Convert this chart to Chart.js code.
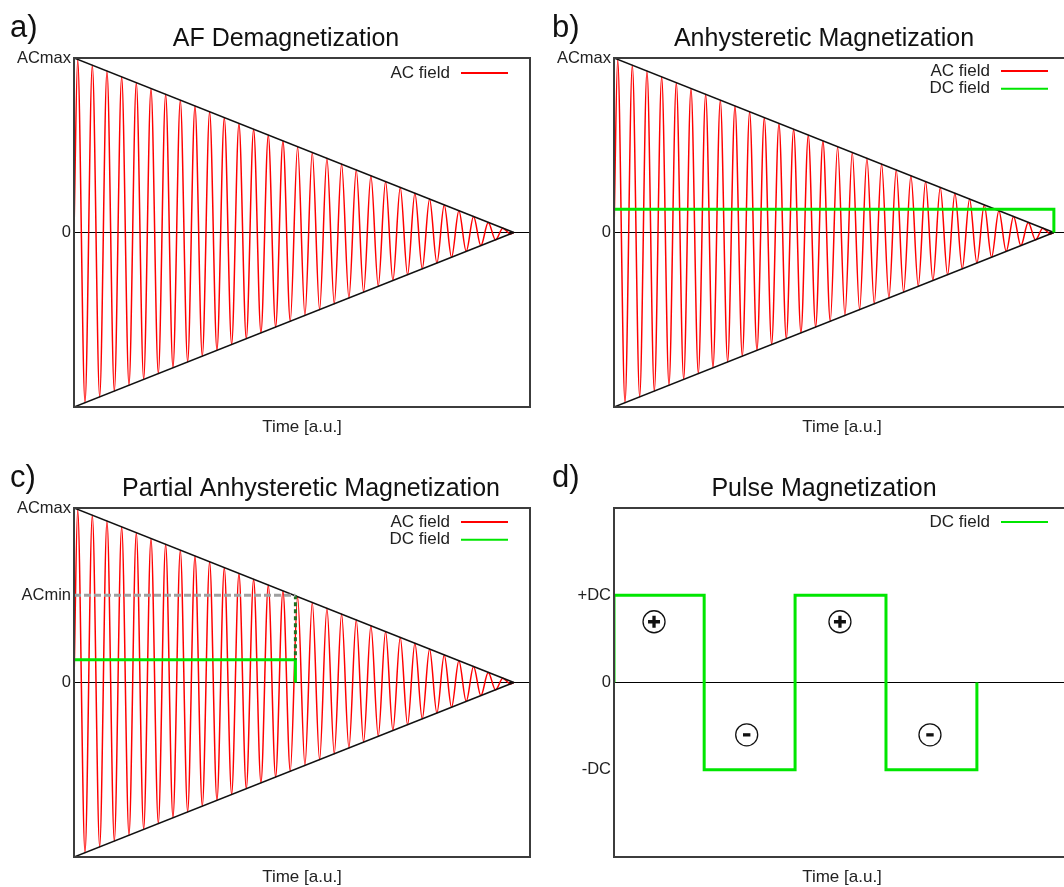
<!DOCTYPE html>
<html>
<head>
<meta charset="utf-8">
<title>Magnetization protocols</title>
<script src="https://cdn.jsdelivr.net/npm/chart.js@4.4.1/dist/chart.umd.min.js"></script>
<style>
  html, body { margin: 0; padding: 0; background: #fff; overflow: hidden; }
  body { position: relative; width: 1064px; height: 887px; }
  canvas { position: absolute; }
</style>
</head>
<body>
<canvas id="panelA" width="572" height="450" style="left:0;top:0"></canvas>
<canvas id="panelB" width="568" height="450" style="left:540px;top:0"></canvas>
<canvas id="panelC" width="622" height="450" style="left:0;top:450px"></canvas>
<canvas id="panelD" width="568" height="450" style="left:540px;top:450px"></canvas>
<script>
// time axis runs 0..31.1, the AC field dies out at t = 30
const timeMax = 31.1;

// AC field: successive peak / trough values, half a cycle apart
const acPeaks = [
  0.992, -0.975, 0.958, -0.942, 0.925, -0.908, 0.892, -0.875, 0.858, -0.842,
  0.825, -0.808, 0.792, -0.775, 0.758, -0.742, 0.725, -0.708, 0.692, -0.675,
  0.658, -0.642, 0.625, -0.608, 0.592, -0.575, 0.558, -0.542, 0.525, -0.508,
  0.492, -0.475, 0.458, -0.442, 0.425, -0.408, 0.392, -0.375, 0.358, -0.342,
  0.325, -0.308, 0.292, -0.275, 0.258, -0.242, 0.225, -0.208, 0.192, -0.175,
  0.158, -0.142, 0.125, -0.108, 0.092, -0.075, 0.058, -0.042, 0.025, -0.008
];
const acTimes = [0, ...acPeaks.map((_, i) => 0.25 + 0.5 * i), 30];
const acValues = [0, ...acPeaks, 0];

const envelopeTimes = [0, 30];
const envelopeUpper = [1, 0];
const envelopeLower = [-1, 0];

// b) constant DC bias during the whole AF decay
const armTimes = [0, 30, 30];
const armValues = [0.133, 0.133, 0];

// c) DC bias switched off when the AC field reaches ACmin
const pdcTimes = [0, 15.1, 15.1];
const pdcValues = [0.13, 0.13, 0];
const acMinTimes = [0, 15.1];
const acMinValues = [0.5, 0.5];
const switchTimes = [15.1, 15.1];
const switchValues = [0.5, 0.13];

// d) DC pulses
const pulseTimes = [0, 0, 6.15, 6.15, 12.35, 12.35, 18.55, 18.55, 24.75, 24.75];
const pulseValues = [0, 0.5, 0.5, -0.5, -0.5, 0.5, 0.5, -0.5, -0.5, 0];
const plusTimes = [2.73, 15.41];
const plusValues = [0.348, 0.348];
const minusTimes = [9.05, 21.55];
const minusValues = [-0.3, -0.3];

// y tick positions and their names
const acTicks = [1, 0];
const acTickLabels = ['ACmax', '0'];
const pamTicks = [1, 0.5, 0];
const pamTickLabels = ['ACmax', 'ACmin', '0'];
const pulseTicks = [0.5, 0, -0.5];
const pulseTickLabels = ['+DC', '0', '-DC'];

const baseFont = '"Liberation Sans", Arial, Helvetica, sans-serif';
const RED = '#ff0000';
const GREEN = '#00e600';

const pts = (times, values) => times.map((t, i) => ({x: t, y: values[i]}));

const series = (times, values, style) => Object.assign({
  data: pts(times, values),
  pointRadius: 0,
  fill: false,
  tension: 0,
  borderWidth: 1.6
}, style);

const acField = () => series(acTimes, acValues, {
  label: 'AC field', borderColor: RED, borderWidth: 1.5,
  cubicInterpolationMode: 'monotone', order: 5
});
const envelopes = () => [
  series(envelopeTimes, envelopeUpper, {borderColor: '#111', order: 2}),
  series(envelopeTimes, envelopeLower, {borderColor: '#111', order: 2})
];

const frame = {
  id: 'frame',
  afterDatasetsDraw(chart) {
    const {ctx, chartArea} = chart;
    ctx.save();
    ctx.strokeStyle = '#3c3c3c';
    ctx.lineWidth = 2;
    ctx.strokeRect(chartArea.left, chartArea.top, chartArea.width, chartArea.height);
    ctx.restore();
  }
};

// key in the top right corner of the plot, text left of the line sample
const cornerLegend = {
  id: 'cornerLegend',
  afterDraw(chart, args, opts) {
    const {ctx, chartArea} = chart;
    const items = chart.data.datasets.filter(ds => ds.label);
    ctx.save();
    ctx.font = '17px ' + baseFont;
    ctx.textAlign = 'right';
    ctx.textBaseline = 'middle';
    items.forEach((ds, i) => {
      const y = chartArea.top + opts.top + i * 17.7;
      const x1 = chartArea.right - 22;
      const x0 = x1 - 47;
      ctx.strokeStyle = ds.borderColor;
      ctx.lineWidth = 2;
      ctx.beginPath();
      ctx.moveTo(x0, y);
      ctx.lineTo(x1, y);
      ctx.stroke();
      ctx.fillStyle = '#222';
      ctx.fillText(ds.label, x0 - 11, y);
    });
    ctx.restore();
  }
};

const panelTag = {
  id: 'panelTag',
  afterDraw(chart, args, opts) {
    const ctx = chart.ctx;
    ctx.save();
    ctx.font = '31px ' + baseFont;
    ctx.fillStyle = '#111';
    ctx.textBaseline = 'alphabetic';
    ctx.fillText(opts.text, opts.x, 36.5);
    ctx.restore();
  }
};

function makeChart(id, cfg) {
  const canvas = document.getElementById(id);
  return new Chart(canvas, {
    type: 'line',
    data: {datasets: cfg.datasets},
    options: {
      responsive: false,
      animation: false,
      events: [],
      layout: {padding: 0},
      plugins: {
        legend: {display: false},
        tooltip: {enabled: false},
        title: {
          display: true,
          text: cfg.title,
          color: '#111',
          font: {family: baseFont, size: 25, weight: 'normal'},
          padding: {top: 24.3, bottom: 3.7}
        },
        panelTag: {text: cfg.tag, x: cfg.tagX},
        cornerLegend: {top: cfg.legendTop}
      },
      scales: {
        x: {
          type: 'linear', min: 0, max: timeMax,
          ticks: {display: false},
          grid: {display: false},
          border: {display: false},
          title: {
            display: true, text: 'Time [a.u.]', color: '#222',
            font: {family: baseFont, size: 17},
            padding: {top: 0, bottom: 12.4}
          },
          afterFit: s => { s.height = 43; }
        },
        y: {
          type: 'linear', min: -1, max: 1,
          border: {display: false},
          grid: {
            color: c => (c.tick && c.tick.value === 0 ? '#000' : 'rgba(0,0,0,0)'),
            lineWidth: 1,
            drawTicks: false
          },
          ticks: {
            autoSkip: false, padding: 3, color: '#222',
            font: {family: baseFont, size: 16.5},
            callback: v => cfg.tickLabels[cfg.ticks.indexOf(v)]
          },
          afterBuildTicks: s => { s.ticks = cfg.ticks.map(v => ({value: v})); },
          afterFit: s => { s.width = 74; }
        },
        y2: {
          position: 'right', display: true,
          ticks: {display: false},
          grid: {display: false, drawTicks: false},
          border: {display: false},
          afterFit: s => { s.width = canvas.width - 530; }
        }
      }
    },
    plugins: [frame, cornerLegend, panelTag]
  });
}

makeChart('panelA', {
  title: 'AF Demagnetization', tag: 'a)', tagX: 10, legendTop: 15,
  ticks: acTicks, tickLabels: acTickLabels,
  datasets: [acField(), ...envelopes()]
});

makeChart('panelB', {
  title: 'Anhysteretic Magnetization', tag: 'b)', tagX: 12, legendTop: 13,
  ticks: acTicks, tickLabels: acTickLabels,
  datasets: [
    acField(),
    series(armTimes, armValues, {label: 'DC field', borderColor: GREEN, borderWidth: 3, order: 1}),
    ...envelopes()
  ]
});

makeChart('panelC', {
  title: 'Partial Anhysteretic Magnetization', tag: 'c)', tagX: 10, legendTop: 14,
  ticks: pamTicks, tickLabels: pamTickLabels,
  datasets: [
    acField(),
    series(pdcTimes, pdcValues, {label: 'DC field', borderColor: GREEN, borderWidth: 3, order: 1}),
    series(acMinTimes, acMinValues, {borderColor: '#a0a0a0', borderWidth: 3, borderDash: [7, 3], order: 0}),
    series(switchTimes, switchValues, {borderColor: '#1f6f1f', borderWidth: 3, borderDash: [4, 3], order: 0}),
    ...envelopes()
  ]
});

makeChart('panelD', {
  title: 'Pulse Magnetization', tag: 'd)', tagX: 12, legendTop: 14,
  ticks: pulseTicks, tickLabels: pulseTickLabels,
  datasets: [
    series(pulseTimes, pulseValues, {label: 'DC field', borderColor: GREEN, borderWidth: 3, order: 1}),
    series(plusTimes, plusValues, {showLine: false, pointRadius: 11, pointStyle: 'circle',
      pointBorderColor: '#111', pointBorderWidth: 1.3, pointBackgroundColor: 'rgba(0,0,0,0)', order: 0}),
    series(plusTimes, plusValues, {showLine: false, pointRadius: 6, pointStyle: 'cross',
      pointBorderColor: '#111', pointBorderWidth: 3.3, order: 0}),
    series(minusTimes, minusValues, {showLine: false, pointRadius: 11, pointStyle: 'circle',
      pointBorderColor: '#111', pointBorderWidth: 1.3, pointBackgroundColor: 'rgba(0,0,0,0)', order: 0}),
    series(minusTimes, minusValues, {showLine: false, pointRadius: 3.7, pointStyle: 'line',
      pointBorderColor: '#111', pointBorderWidth: 3.3, order: 0})
  ]
});
</script>
</body>
</html>
